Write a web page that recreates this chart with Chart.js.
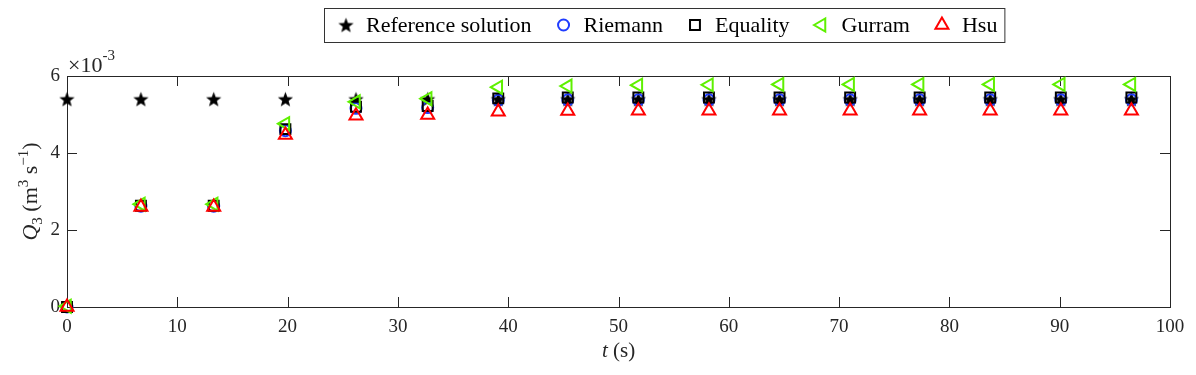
<!DOCTYPE html>
<html>
<head>
<meta charset="utf-8">
<script src="https://cdn.jsdelivr.net/npm/chart.js@4"></script>
<style>
  body { margin: 0; background: #fff; }
</style>
</head>
<body>
<canvas id="chart" width="1196" height="375"></canvas>
<script>
// values in units of 1e-3 m^3/s
const times = [0, 6.7, 13.3, 19.8, 26.2, 32.7, 39.1, 45.4, 51.8, 58.2, 64.6, 71.0, 77.3, 83.7, 90.1, 96.5];
const reference = [5.4, 5.4, 5.4, 5.4, 5.4, 5.4, 5.4, 5.4, 5.4, 5.4, 5.4, 5.4, 5.4, 5.4, 5.4, 5.4];
const riemann = [0, 2.62, 2.62, 4.58, 5.16, 5.18, 5.37, 5.38, 5.38, 5.38, 5.38, 5.38, 5.38, 5.38, 5.38, 5.38];
const equality = [0, 2.63, 2.63, 4.62, 5.2, 5.22, 5.42, 5.44, 5.44, 5.44, 5.44, 5.44, 5.44, 5.44, 5.44, 5.44];
const gurram = [0.02, 2.67, 2.67, 4.76, 5.33, 5.41, 5.71, 5.74, 5.76, 5.77, 5.78, 5.78, 5.78, 5.78, 5.78, 5.78];
const hsu = [0, 2.6, 2.6, 4.47, 4.97, 4.99, 5.07, 5.09, 5.1, 5.1, 5.1, 5.1, 5.1, 5.1, 5.1, 5.1];
const xTicks = [0, 10, 20, 30, 40, 50, 60, 70, 80, 90, 100];
const yTicks = [0, 2, 4, 6];

const SERIF = "'Liberation Serif', 'DejaVu Serif', serif";
const AXIS = '#262626';

// filled five point star used as marker
function makeStar(size) {
    const c = document.createElement('canvas');
    c.width = size; c.height = size;
    const g = c.getContext('2d');
    const R = size / 2 - 0.5, r = R * 0.42, cx = size / 2, cy = size / 2 + 0.8;
    g.beginPath();
    for (let i = 0; i < 10; i++) {
        const rad = i % 2 === 0 ? R : r;
        const a = -Math.PI / 2 + i * Math.PI / 5;
        g.lineTo(cx + rad * Math.cos(a), cy + rad * Math.sin(a));
    }
    g.closePath();
    g.fillStyle = '#000';
    g.fill();
    return c;
}
const star = makeStar(17);

function pts(ys) {
    return times.map((t, i) => ({ x: t, y: ys[i] }));
}

const datasets = [
    { label: 'Reference solution', data: pts(reference), pointStyle: star, pointRadius: 8,
      borderColor: '#000', backgroundColor: '#000', order: 5, clip: false },
    { label: 'Riemann', data: pts(riemann), pointStyle: 'circle', pointRadius: 5.5,
      borderColor: '#1f3cff', backgroundColor: 'rgba(0,0,0,0)', pointBorderWidth: 2, order: 4, clip: false },
    { label: 'Equality', data: pts(equality), pointStyle: 'rect', pointRadius: 7,
      borderColor: '#000', backgroundColor: 'rgba(0,0,0,0)', pointBorderWidth: 2, order: 3, clip: false },
    { label: 'Gurram', data: pts(gurram), pointStyle: 'triangle', pointRotation: -90, pointRadius: 7.5,
      borderColor: '#5ef000', backgroundColor: 'rgba(0,0,0,0)', pointBorderWidth: 2, order: 2, clip: false },
    { label: 'Hsu', data: pts(hsu), pointStyle: 'triangle', pointRadius: 7.5,
      borderColor: '#ff0000', backgroundColor: 'rgba(0,0,0,0)', pointBorderWidth: 2, order: 1, clip: false }
];

// box, inward ticks, axis titles and legend in MATLAB style
const matlabAxes = {
    id: 'matlabAxes',
    beforeDatasetsDraw(chart) {
        const { ctx, chartArea: a, scales } = chart;
        ctx.save();
        ctx.strokeStyle = AXIS;
        ctx.lineWidth = 1;
        ctx.strokeRect(Math.round(a.left) + 0.5, Math.round(a.top) + 0.5,
            Math.round(a.right - a.left), Math.round(a.bottom - a.top));
        ctx.beginPath();
        xTicks.forEach(v => {
            const px = Math.round(scales.x.getPixelForValue(v)) + 0.5;
            ctx.moveTo(px, a.bottom); ctx.lineTo(px, a.bottom - 10);
            ctx.moveTo(px, a.top); ctx.lineTo(px, a.top + 10);
        });
        yTicks.forEach(v => {
            const py = Math.round(scales.y.getPixelForValue(v)) + 0.5;
            ctx.moveTo(a.left, py); ctx.lineTo(a.left + 10, py);
            ctx.moveTo(a.right, py); ctx.lineTo(a.right - 10, py);
        });
        ctx.stroke();
        ctx.restore();
    },
    afterDraw(chart) {
        const { ctx, chartArea: a } = chart;
        ctx.save();
        ctx.fillStyle = AXIS;
        ctx.textBaseline = 'alphabetic';

        // exponent label
        ctx.font = '22px ' + SERIF;
        ctx.fillText('\u00d710', a.left + 1, a.top - 4);
        const w10 = ctx.measureText('\u00d710').width;
        ctx.font = '15px ' + SERIF;
        ctx.fillText('-3', a.left + 1 + w10, a.top - 16);

        // x title
        const xc = (a.left + a.right) / 2;
        ctx.font = 'italic 21px ' + SERIF;
        const wt = ctx.measureText('t').width;
        ctx.font = '21px ' + SERIF;
        const ws = ctx.measureText(' (s)').width;
        let x0 = xc - (wt + ws) / 2;
        ctx.font = 'italic 21px ' + SERIF;
        ctx.fillText('t', x0, 357);
        ctx.font = '21px ' + SERIF;
        ctx.fillText(' (s)', x0 + wt, 357);

        // y title
        const parts = [
            { t: 'Q', f: 'italic 22px ', dy: 0 },
            { t: '3', f: '15px ', dy: 5 },
            { t: ' (m', f: '22px ', dy: 0 },
            { t: '3', f: '15px ', dy: -9 },
            { t: ' s', f: '22px ', dy: 0 },
            { t: '\u22121', f: '15px ', dy: -9 },
            { t: ')', f: '22px ', dy: 0 }
        ];
        let total = 0;
        parts.forEach(p => { ctx.font = p.f + SERIF; p.w = ctx.measureText(p.t).width; total += p.w; });
        ctx.translate(0, (a.top + a.bottom) / 2);
        ctx.rotate(-Math.PI / 2);
        let px = -total / 2;
        parts.forEach(p => {
            ctx.font = p.f + SERIF;
            ctx.fillText(p.t, px, 37 + p.dy);
            px += p.w;
        });
        ctx.restore();

        // legend
        ctx.save();
        ctx.font = '22px ' + SERIF;
        ctx.textBaseline = 'middle';
        const ly = 25, markGap = 20, itemGap = 32;
        let lx = 346;
        const left = 324;
        chart.data.datasets.forEach(ds => {
            ctx.strokeStyle = ds.borderColor;
            ctx.fillStyle = ds.backgroundColor;
            ctx.lineWidth = ds.pointBorderWidth || 1;
            Chart.helpers.drawPoint(ctx, {
                pointStyle: ds.pointStyle,
                rotation: ds.pointRotation || 0,
                radius: ds.pointRadius,
                borderWidth: ds.pointBorderWidth || 0
            }, lx, ly);
            ctx.fillStyle = '#000';
            ctx.fillText(ds.label, lx + markGap, ly + 1);
            lx += markGap + ctx.measureText(ds.label).width + itemGap;
        });
        const right = lx - itemGap + 7;
        ctx.strokeStyle = '#333';
        ctx.lineWidth = 1;
        ctx.strokeRect(left + 0.5, 8.5, right - left, 34);
        ctx.restore();
    }
};

new Chart(document.getElementById('chart').getContext('2d'), {
    type: 'scatter',
    data: { datasets: datasets },
    plugins: [matlabAxes],
    options: {
        responsive: false,
        animation: false,
        layout: { padding: { left: 0, right: 26, top: 76, bottom: 0 } },
        plugins: { legend: { display: false }, tooltip: { enabled: false } },
        scales: {
            x: {
                type: 'linear', min: 0, max: 100,
                afterBuildTicks: s => { s.ticks = xTicks.map(v => ({ value: v })); },
                afterFit: s => { s.height = 68; },
                grid: { display: false, drawTicks: false },
                border: { display: false },
                ticks: { color: AXIS, font: { family: SERIF, size: 19 }, padding: 9, maxRotation: 0 }
            },
            y: {
                type: 'linear', min: 0, max: 6,
                afterBuildTicks: s => { s.ticks = yTicks.map(v => ({ value: v })); },
                afterFit: s => { s.width = 67; },
                grid: { display: false, drawTicks: false },
                border: { display: false },
                ticks: { color: AXIS, font: { family: SERIF, size: 19 }, padding: 7 }
            }
        }
    }
});
</script>
</body>
</html>
